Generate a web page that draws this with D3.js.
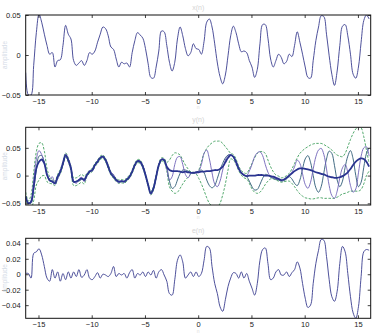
<!DOCTYPE html>
<html>
<head>
<meta charset="utf-8">
<script src="https://cdn.jsdelivr.net/npm/d3@7"></script>
<style>
  body { margin: 0; background: #fff; }
  svg { display: block; }
  text { font-family: "Liberation Sans", Arial, sans-serif; }
</style>
</head>
<body>
<svg id="chart" width="382" height="333"></svg>
<script>
// sample grid: first sample and spacing along n
let nStart = -16.2;
let nStep = 0.25;

let xTicks = [-15, -10, -5, 0, 5, 10, 15];

// panel 1: x(n)
let signalX = [
  -0.022, -0.050, -0.050, -0.013, 0.028, 0.051, 0.041, 0.026, 0.012, 0.001,
  0.003, -0.015, -0.007, -0.006, 0.012, 0.037, 0.026, 0.020, -0.007, -0.013,
  -0.010, -0.007, -0.013, -0.007, 0.003, 0.001, 0.005, 0.016, 0.026, 0.035,
  0.033, 0.024, 0.010, 0.007, -0.005, -0.015, -0.009, -0.011, -0.010, -0.015,
  0.003, 0.018, 0.028, 0.025, 0.021, 0.008, -0.011, -0.028, -0.029, -0.015,
  0.005, 0.030, 0.029, 0.012, -0.009, -0.020, -0.009, 0.020, 0.035, 0.024,
  0.008, -0.001, 0.003, 0.014, 0.008, 0.007, 0.001, 0.017, 0.041, 0.045,
  0.035, 0.014, -0.010, -0.027, -0.036, -0.025, -0.001, 0.024, 0.036, 0.028,
  0.014, 0.004, 0.005, 0.003, -0.007, -0.015, -0.028, -0.018, 0.014, 0.038,
  0.038, 0.021, -0.005, -0.015, -0.007, 0.001, -0.003, -0.011, -0.008, 0.001,
  -0.002, 0.012, 0.029, 0.016, 0.001, -0.015, -0.028, -0.029, -0.007, 0.018,
  0.035, 0.049, 0.048, 0.026, -0.001, -0.024, -0.038, -0.020, 0.012, 0.036,
  0.038, 0.024, 0.001, -0.024, -0.029, -0.015, 0.016, 0.043, 0.050, 0.045
];
let yTicks1 = [-0.05, 0, 0.05];

// panel 2: mean, two sample paths, upper and lower bounds
let meanY = [
  -0.038, -0.050, -0.047, -0.020, 0.013, 0.025, 0.029, 0.022, 0.001, -0.008,
  -0.011, -0.014, -0.002, 0.007, 0.022, 0.037, 0.028, 0.013, -0.011, -0.011,
  -0.008, -0.005, -0.008, 0.001, 0.007, 0.010, 0.019, 0.025, 0.032, 0.034,
  0.028, 0.016, 0.004, -0.002, -0.008, -0.011, -0.010, -0.011, -0.007, -0.002,
  0.007, 0.019, 0.026, 0.025, 0.016, 0.001, -0.017, -0.032, -0.023, -0.002,
  0.019, 0.029, 0.028, 0.016, 0.010, 0.008, 0.008, 0.008, 0.007, 0.006,
  0.007, 0.006, 0.005, 0.005, 0.006, 0.006, 0.007, 0.007, 0.008, 0.008,
  0.009, 0.010, 0.010, 0.012, 0.016, 0.024, 0.032, 0.037, 0.034, 0.025,
  0.013, 0.005, 0.001, -0.001, 0.000, 0.000, 0.000, 0.001, 0.001, 0.001,
  0.000, 0.000, -0.001, -0.002, -0.004, -0.006, -0.008, -0.007, -0.004, 0.000,
  0.004, 0.008, 0.011, 0.013, 0.013, 0.012, 0.011, 0.010, 0.008, 0.006,
  0.005, 0.003, 0.002, 0.000, -0.002, -0.003, -0.004, -0.004, -0.003, -0.001,
  0.002, 0.006, 0.012, 0.019, 0.025, 0.029, 0.031, 0.030, 0.025, 0.016
];
let sampleA = [
  -0.040, -0.050, -0.046, -0.010, 0.030, 0.045, 0.038, 0.022, 0.004, -0.006,
  -0.002, -0.016, -0.006, 0.006, 0.024, 0.039, 0.030, 0.016, -0.009, -0.014,
  -0.006, -0.003, -0.011, 0.000, 0.009, 0.008, 0.018, 0.027, 0.033, 0.035,
  0.030, 0.018, 0.006, 0.002, -0.009, -0.013, -0.009, -0.012, -0.008, -0.004,
  0.008, 0.018, 0.027, 0.026, 0.018, 0.003, -0.018, -0.034, -0.024, -0.003,
  0.020, 0.029, 0.028, 0.012, -0.008, -0.002, 0.020, 0.033, 0.034, 0.020,
  0.002, -0.004, 0.004, 0.006, 0.004, 0.008, 0.020, 0.040, 0.046, 0.030,
  0.005, -0.015, -0.020, -0.010, 0.010, 0.028, 0.036, 0.038, 0.034, 0.022,
  0.011, 0.004, 0.001, 0.000, 0.008, 0.020, 0.034, 0.041, 0.043, 0.036,
  0.020, 0.006, -0.002, -0.003, -0.006, -0.007, -0.009, -0.007, -0.003, 0.002,
  0.006, 0.016, 0.028, 0.022, 0.003, -0.016, -0.023, -0.012, 0.012, 0.034,
  0.046, 0.049, 0.038, 0.012, -0.018, -0.036, -0.041, -0.028, -0.004, 0.014,
  0.020, 0.006, -0.018, -0.030, -0.024, 0.005, 0.035, 0.050, 0.052, 0.035
];
let sampleB = [
  -0.036, -0.049, -0.050, -0.025, 0.010, 0.035, 0.036, 0.024, 0.002, -0.010,
  -0.009, -0.013, -0.001, 0.008, 0.021, 0.036, 0.027, 0.012, -0.012, -0.010,
  -0.010, -0.007, -0.006, 0.002, 0.006, 0.011, 0.020, 0.024, 0.031, 0.033,
  0.027, 0.015, 0.003, -0.003, -0.007, -0.012, -0.011, -0.010, -0.006, -0.001,
  0.006, 0.020, 0.025, 0.024, 0.015, 0.000, -0.016, -0.031, -0.022, -0.001,
  0.018, 0.029, 0.027, 0.015, -0.010, -0.023, -0.020, -0.008, 0.004, 0.010,
  0.010, 0.008, 0.006, 0.005, 0.006, 0.008, 0.010, 0.005, -0.008, -0.018,
  -0.022, -0.018, -0.005, 0.010, 0.022, 0.032, 0.037, 0.038, 0.033, 0.024,
  0.012, 0.004, 0.000, -0.002, -0.010, -0.020, -0.026, -0.025, -0.016, -0.005,
  0.002, 0.001, -0.003, -0.005, -0.007, -0.008, -0.010, -0.009, -0.006, -0.002,
  -0.006, -0.014, -0.018, -0.008, 0.012, 0.030, 0.036, 0.024, 0.000, -0.022,
  -0.030, -0.020, 0.005, 0.030, 0.044, 0.040, 0.018, -0.008, -0.020, -0.010,
  0.015, 0.035, 0.045, 0.030, 0.000, -0.020, -0.012, 0.015, 0.040, 0.050
];
let upperY = [
  -0.030, -0.046, -0.035, 0.005, 0.043, 0.058, 0.059, 0.044, 0.013, -0.002,
  -0.007, -0.010, 0.002, 0.011, 0.026, 0.041, 0.032, 0.017, -0.004, -0.004,
  -0.001, 0.002, -0.001, 0.004, 0.010, 0.013, 0.022, 0.028, 0.035, 0.037,
  0.031, 0.019, 0.007, 0.001, -0.005, -0.008, -0.007, -0.008, -0.004, 0.001,
  0.010, 0.022, 0.029, 0.028, 0.019, 0.004, -0.014, -0.029, -0.020, 0.001,
  0.022, 0.032, 0.031, 0.024, 0.028, 0.036, 0.041, 0.040, 0.037, 0.028,
  0.019, 0.012, 0.007, 0.006, 0.005, 0.010, 0.025, 0.040, 0.049, 0.055,
  0.059, 0.062, 0.062, 0.062, 0.058, 0.052, 0.046, 0.040, 0.038, 0.030,
  0.017, 0.009, 0.005, 0.004, 0.012, 0.022, 0.032, 0.040, 0.043, 0.043,
  0.040, 0.028, 0.016, 0.007, 0.001, -0.001, -0.004, -0.003, 0.000, 0.004,
  0.012, 0.022, 0.032, 0.040, 0.045, 0.049, 0.052, 0.055, 0.057, 0.058,
  0.058, 0.058, 0.056, 0.053, 0.050, 0.046, 0.041, 0.037, 0.035, 0.034,
  0.040, 0.052, 0.065, 0.076, 0.084, 0.088, 0.086, 0.070, 0.046, 0.022
];
let lowerY = [
  -0.046, -0.054, -0.059, -0.045, -0.017, -0.008, -0.001, 0.000, -0.011, -0.014,
  -0.015, -0.018, -0.006, 0.003, 0.018, 0.033, 0.024, 0.009, -0.018, -0.018,
  -0.015, -0.012, -0.015, -0.002, 0.004, 0.007, 0.016, 0.022, 0.029, 0.031,
  0.025, 0.013, 0.001, -0.005, -0.011, -0.014, -0.013, -0.014, -0.010, -0.005,
  0.004, 0.016, 0.023, 0.022, 0.013, -0.002, -0.020, -0.035, -0.026, -0.005,
  0.016, 0.026, 0.024, 0.008, -0.020, -0.028, -0.032, -0.030, -0.023, -0.015,
  -0.008, -0.003, 0.002, 0.004, 0.003, -0.005, -0.015, -0.027, -0.040, -0.050,
  -0.055, -0.058, -0.057, -0.050, -0.035, -0.015, 0.010, 0.030, 0.028, 0.020,
  0.009, 0.001, -0.004, -0.006, -0.014, -0.024, -0.030, -0.032, -0.030, -0.024,
  -0.016, -0.010, -0.006, -0.006, -0.008, -0.010, -0.012, -0.011, -0.010, -0.010,
  -0.014, -0.020, -0.027, -0.033, -0.037, -0.040, -0.041, -0.042, -0.042, -0.041,
  -0.040, -0.040, -0.041, -0.041, -0.041, -0.041, -0.041, -0.039, -0.036, -0.033,
  -0.032, -0.030, -0.028, -0.028, -0.028, -0.028, -0.025, -0.015, 0.000, 0.008
];
let yTicks2 = [-0.05, 0, 0.05];

// panel 3: e(n)
let errorE = [
  0.001, 0.001, -0.005, 0.027, 0.029, 0.033, 0.025, 0.010, -0.005, -0.009,
  0.006, -0.005, 0.003, -0.009, 0.001, -0.007, 0.003, -0.005, 0.003, -0.003,
  0.006, -0.004, -0.001, 0.006, -0.005, -0.007, -0.003, 0.002, -0.005, 0.000,
  -0.001, -0.003, 0.001, 0.010, -0.003, 0.001, -0.001, 0.001, -0.005, 0.002,
  0.006, -0.005, 0.001, -0.001, 0.003, -0.003, 0.003, -0.001, 0.005, -0.005,
  0.003, 0.006, -0.001, -0.009, -0.025, -0.027, -0.007, 0.018, 0.025, 0.016,
  -0.005, -0.001, 0.003, -0.003, 0.003, -0.003, 0.001, 0.018, 0.036, 0.034,
  0.010, -0.012, -0.025, -0.042, -0.048, -0.033, -0.016, -0.005, 0.002, 0.001,
  -0.005, 0.003, -0.005, 0.001, -0.009, -0.018, -0.027, -0.012, 0.018, 0.032,
  0.034, 0.014, -0.007, -0.005, 0.003, 0.006, -0.001, -0.001, 0.003, -0.003,
  0.002, 0.006, 0.016, 0.008, -0.012, -0.031, -0.043, -0.040, -0.012, 0.014,
  0.031, 0.045, 0.044, 0.023, -0.007, -0.029, -0.035, -0.022, 0.014, 0.036,
  0.029, 0.001, -0.029, -0.050, -0.057, -0.042, -0.003, 0.029, 0.032, 0.031
];
let yTicks3 = [-0.04, -0.02, 0, 0.02, 0.04];

let titles = ["x(n)", "y(n)", "e(n)"];

let svg = d3.select("#chart");
let plotLeft = 25.7, plotRight = 370.7;

let x = d3.scaleLinear().domain([-16.2, 16.2]).range([plotLeft, plotRight]);

function nAt(i) {
  return nStart + nStep * i;
}

function drawPanel(id, top, bottom, yDomain, yTicks, title) {
  let y = d3.scaleLinear().domain(yDomain).range([bottom, top]);
  let g = svg.append("g");

  g.append("clipPath").attr("id", "clip" + id)
    .append("rect")
    .attr("x", plotLeft).attr("y", top)
    .attr("width", plotRight - plotLeft).attr("height", bottom - top);

  let body = g.append("g").attr("clip-path", "url(#clip" + id + ")");

  // ticks point inward on all four sides, like the original
  g.append("g")
    .attr("transform", "translate(0," + bottom + ")")
    .call(d3.axisBottom(x).tickValues(xTicks).tickSizeInner(-3).tickSizeOuter(0).tickPadding(3.5))
    .call(a => a.select(".domain").remove());
  g.append("g")
    .attr("transform", "translate(0," + top + ")")
    .call(d3.axisTop(x).tickValues(xTicks).tickSizeInner(-3).tickSizeOuter(0).tickFormat(""))
    .call(a => a.select(".domain").remove());
  g.append("g")
    .attr("transform", "translate(" + plotLeft + ",0)")
    .call(d3.axisLeft(y).tickValues(yTicks).tickSizeInner(-3).tickSizeOuter(0).tickPadding(5).tickFormat(d => d === 0 ? "0" : d3.format("")(d)))
    .call(a => a.select(".domain").remove());
  g.append("g")
    .attr("transform", "translate(" + plotRight + ",0)")
    .call(d3.axisRight(y).tickValues(yTicks).tickSizeInner(-3).tickSizeOuter(0).tickFormat(""))
    .call(a => a.select(".domain").remove());

  g.selectAll(".tick line").attr("stroke", "#111").attr("stroke-width", 0.8);
  g.selectAll(".tick text")
    .attr("fill", "#222")
    .style("font-size", "7.5px")
    .style("font-family", "Liberation Sans, Arial, sans-serif");

  g.append("rect")
    .attr("x", plotLeft).attr("y", top)
    .attr("width", plotRight - plotLeft).attr("height", bottom - top)
    .attr("fill", "none").attr("stroke", "#111").attr("stroke-width", 1);

  g.append("text")
    .attr("x", (plotLeft + plotRight) / 2).attr("y", top - 5)
    .attr("text-anchor", "middle")
    .attr("fill", "#d4d4d4")
    .style("font-size", "7px")
    .text(title);

  g.append("text")
    .attr("transform", "translate(7," + ((top + bottom) / 2) + ") rotate(-90)")
    .attr("text-anchor", "middle")
    .attr("fill", "#d4dbe6")
    .style("font-size", "6.5px")
    .text("amplitude");

  g.append("text")
    .attr("x", (plotLeft + plotRight) / 2).attr("y", bottom + 14.4)
    .attr("text-anchor", "middle")
    .attr("fill", "#dddddd")
    .style("font-size", "5px")
    .text("n");

  return { y: y, body: body };
}

function addLine(panel, values, color, width, dash) {
  let line = d3.line()
    .x((d, i) => x(nAt(i)))
    .y(d => panel.y(d))
    .curve(d3.curveCatmullRom);
  let p = panel.body.append("path")
    .datum(values)
    .attr("d", line)
    .attr("fill", "none")
    .attr("stroke", color)
    .attr("stroke-width", width)
    .attr("stroke-linejoin", "round");
  if (dash) p.attr("stroke-dasharray", dash);
}

let p1 = drawPanel(1, 15, 95, [-0.05, 0.05], yTicks1, titles[0]);
addLine(p1, signalX, "#3a3d8f", 0.9);

let p2 = drawPanel(2, 127.3, 205, [-0.053, 0.087], yTicks2, titles[1]);
addLine(p2, upperY, "#3f9f5c", 0.9, "2.5,1.5");
addLine(p2, lowerY, "#3f9f5c", 0.9, "2.5,1.5");
addLine(p2, sampleB, "#2c5a75", 0.9);
addLine(p2, sampleA, "#6f62b8", 0.9);
addLine(p2, meanY, "#2a3490", 1.8);

let p3 = drawPanel(3, 238.3, 318.3, [-0.057, 0.0465], yTicks3, titles[2]);
addLine(p3, errorE, "#3a3d8f", 0.9);
</script>
</body>
</html>
